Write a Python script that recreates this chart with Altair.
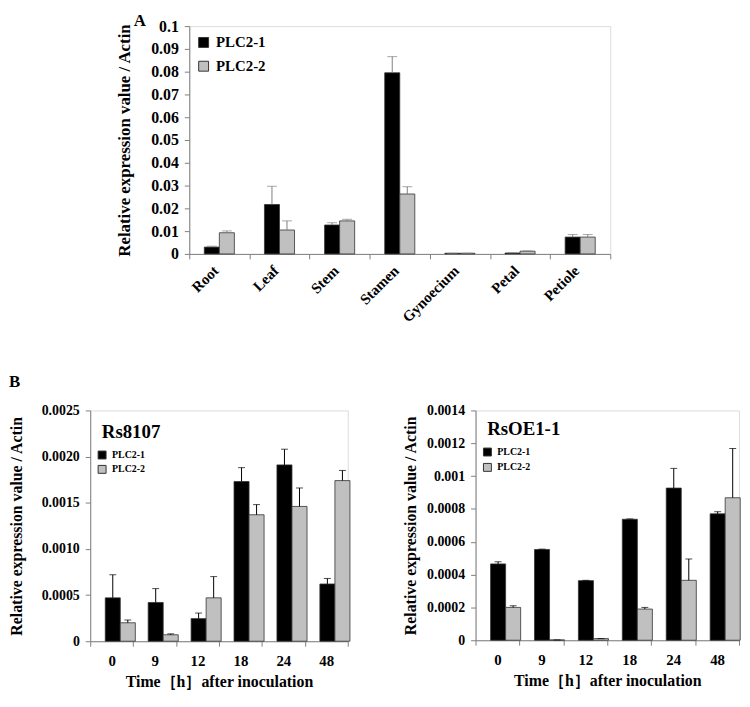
import altair as alt
import pandas as pd

FONT = "Liberation Serif"

series = ["PLC2-1", "PLC2-2"]
series_colors = ["#000000", "#c0c0c0"]

# Panel A: tissues
tissues = ["Root", "Leaf", "Stem", "Stamen", "Gynoecium", "Petal", "Petiole"]
a_plc21 = [0.0030, 0.0217, 0.0127, 0.0795, 0.0003, 0.0004, 0.0074]
a_plc21_err = [0.0004, 0.0080, 0.0010, 0.0071, 0.0000, 0.0001, 0.0011]
a_plc22 = [0.0093, 0.0105, 0.0145, 0.0263, 0.0003, 0.0012, 0.0074]
a_plc22_err = [0.0008, 0.0040, 0.0007, 0.0032, 0.0000, 0.0001, 0.0011]
a_yticks = [0, 0.01, 0.02, 0.03, 0.04, 0.05, 0.06, 0.07, 0.08, 0.09, 0.1]

# Panel B: time course
times = ["0", "9", "12", "18", "24", "48"]
rs_plc21 = [0.00047, 0.00042, 0.000245, 0.00173, 0.00191, 0.00062]
rs_plc21_err = [0.00025, 0.00015, 0.00006, 0.00015, 0.00017, 0.00006]
rs_plc22 = [0.00020, 0.00007, 0.00047, 0.00137, 0.00146, 0.00174]
rs_plc22_err = [0.00003, 0.00001, 0.00023, 0.00011, 0.00020, 0.00011]
rs_yticks = [0, 0.0005, 0.0010, 0.0015, 0.0020, 0.0025]

oe_plc21 = [0.000465, 0.000553, 0.000363, 0.000737, 0.000927, 0.000770]
oe_plc21_err = [0.000013, 0.000002, 0.000002, 0.000002, 0.000120, 0.000013]
oe_plc22 = [0.000200, 0.000002, 0.000010, 0.000190, 0.000365, 0.000868]
oe_plc22_err = [0.000010, 0.0, 0.0, 0.000010, 0.000130, 0.000300]
oe_yticks = [0, 0.0002, 0.0004, 0.0006, 0.0008, 0.001, 0.0012, 0.0014]

y_title = "Relative expression value / Actin"
x_title_b = "Time［h］after inoculation"

AXIS_GRAY = "#808080"


def long_df(cats, catname, v1, e1, v2, e2):
    rows = []
    for c, a, ea, b, eb in zip(cats, v1, e1, v2, e2):
        rows.append({catname: c, "series": series[0], "value": a, "top": a + ea})
        rows.append({catname: c, "series": series[1], "value": b, "top": b + eb})
    return pd.DataFrame(rows)


def text_layer(txt, x, y, size, opacity=1.0, baseline="alphabetic"):
    return alt.Chart(pd.DataFrame({"t": [txt]})).mark_text(
        align="left", baseline=baseline, font=FONT, fontSize=size,
        fontWeight="bold", color="black", opacity=opacity,
    ).encode(x=alt.value(x), y=alt.value(y), text="t:N")


def panel(df, catname, cats, ydomain, yaxis, xaxis, legend, width, height,
          err_color, cap_size, extra_layers):
    base = alt.Chart(df)
    x = alt.X(f"{catname}:N", sort=cats,
              scale=alt.Scale(paddingInner=0, paddingOuter=0), axis=xaxis)
    xo = alt.XOffset("series:N", sort=series,
                     scale=alt.Scale(domain=series, paddingInner=0, paddingOuter=1.0))
    yscale = alt.Scale(domain=ydomain, nice=False, zero=True)
    bars = base.mark_bar(stroke="#333333", strokeWidth=0.8).encode(
        x=x, xOffset=xo,
        y=alt.Y("value:Q", scale=yscale, axis=yaxis),
        color=alt.Color("series:N", sort=series,
                        scale=alt.Scale(domain=series, range=series_colors),
                        legend=legend),
    )
    err = base.mark_rule(color=err_color, strokeWidth=1).encode(
        x=x, xOffset=xo,
        y=alt.Y("value:Q", scale=yscale, axis=yaxis),
        y2="top:Q",
    )
    cap = base.mark_tick(color=err_color, size=cap_size, thickness=1).encode(
        x=x, xOffset=xo,
        y=alt.Y("top:Q", scale=yscale, axis=yaxis),
    )
    return alt.layer(bars, err, cap, *extra_layers).properties(width=width, height=height)


def y_axis(values, title_size, label_size, title_padding, fmt=None, label_expr=None):
    kw = dict(values=values, title=y_title, titleFont=FONT, titleFontSize=title_size,
              titleFontWeight="bold", titleColor="black", titlePadding=title_padding,
              labelFont=FONT, labelFontSize=label_size, labelFontWeight="bold",
              labelColor="black", labelPadding=6, tickSize=5, tickColor=AXIS_GRAY,
              domainColor=AXIS_GRAY, grid=False)
    if fmt:
        kw["format"] = fmt
    if label_expr:
        kw["labelExpr"] = label_expr
    return alt.Axis(**kw)


def legend(x, y, sym, label_size, offset, row_pad):
    return alt.Legend(orient="none", legendX=x, legendY=y, title=None, direction="vertical",
                      symbolType="square", symbolSize=sym * sym, symbolStrokeColor="#333333",
                      symbolStrokeWidth=1, labelFont=FONT, labelFontSize=label_size,
                      labelFontWeight="bold", labelColor="black", labelOffset=offset,
                      rowPadding=row_pad, padding=0)


# ---- Panel A
df_a = long_df(tissues, "tissue", a_plc21, a_plc21_err, a_plc22, a_plc22_err)
xaxis_a = alt.Axis(title=None, labelAngle=-45, labelAlign="right", labelBaseline="middle",
                   labelFont=FONT, labelFontSize=15, labelFontWeight="bold", labelColor="black",
                   labelPadding=9, labelOffset=-4, tickBand="extent", tickSize=5,
                   tickColor=AXIS_GRAY, domainColor=AXIS_GRAY, labelOverlap=False)
chart_a = panel(df_a, "tissue", tissues, [0, 0.1],
                y_axis(a_yticks, 17, 16, 17, fmt="~g"), xaxis_a,
                legend(7, 9, 10, 15, 5, 8), 425, 230, "#808080", 10,
                [text_layer("A", -56, -13, 17, baseline="top"),
                 text_layer("A", -98, -13, 17, opacity=0, baseline="top")])

# ---- Panel B
xaxis_b = alt.Axis(title=x_title_b, titleFont=FONT, titleFontSize=16, titleFontWeight="bold",
                   titleColor="black", titlePadding=6, labelAngle=0,
                   labelFont=FONT, labelFontSize=15, labelFontWeight="bold", labelColor="black",
                   labelPadding=7, tickBand="extent", tickSize=5, tickColor=AXIS_GRAY,
                   domainColor=AXIS_GRAY)

df_rs = long_df(times, "time", rs_plc21, rs_plc21_err, rs_plc22, rs_plc22_err)
chart_bl = panel(df_rs, "time", times, [0, 0.0025],
                 y_axis(rs_yticks, 16, 14, 17,
                        label_expr="datum.value == 0 ? '0' : format(datum.value, '.4f')"),
                 xaxis_b, legend(7, 40, 8, 10, 5, 2.5), 260, 233, "#000000", 7,
                 [text_layer("Rs8107", 11.7, 28, 19),
                  text_layer("B", -82, -37, 17, baseline="top")])

df_oe = long_df(times, "time", oe_plc21, oe_plc21_err, oe_plc22, oe_plc22_err)
chart_br = panel(df_oe, "time", times, [0, 0.0014],
                 y_axis(oe_yticks, 16, 14, 8, fmt="~g"),
                 xaxis_b, legend(7, 37, 8, 10, 5, 3.5), 266, 232, "#000000", 7,
                 [text_layer("RsOE1-1", 11.7, 24.5, 19)])

spacer = alt.Chart(pd.DataFrame({"t": [""]})).mark_text(opacity=0).encode(
    text="t:N").properties(width=1, height=1)

row_a = alt.hconcat(spacer, chart_a, spacing=0).resolve_scale(
    color="independent").resolve_legend(color="independent")
row_b = alt.hconcat(chart_bl, chart_br, spacing=51).resolve_scale(
    color="independent").resolve_legend(color="independent")

chart = alt.vconcat(row_a, row_b, spacing=46).resolve_scale(
    color="independent").resolve_legend(color="independent").properties(
    padding=0).configure_view(stroke=None).configure(font=FONT)

chart.save("out.html", embed_options={"renderer": "svg", "actions": False})
